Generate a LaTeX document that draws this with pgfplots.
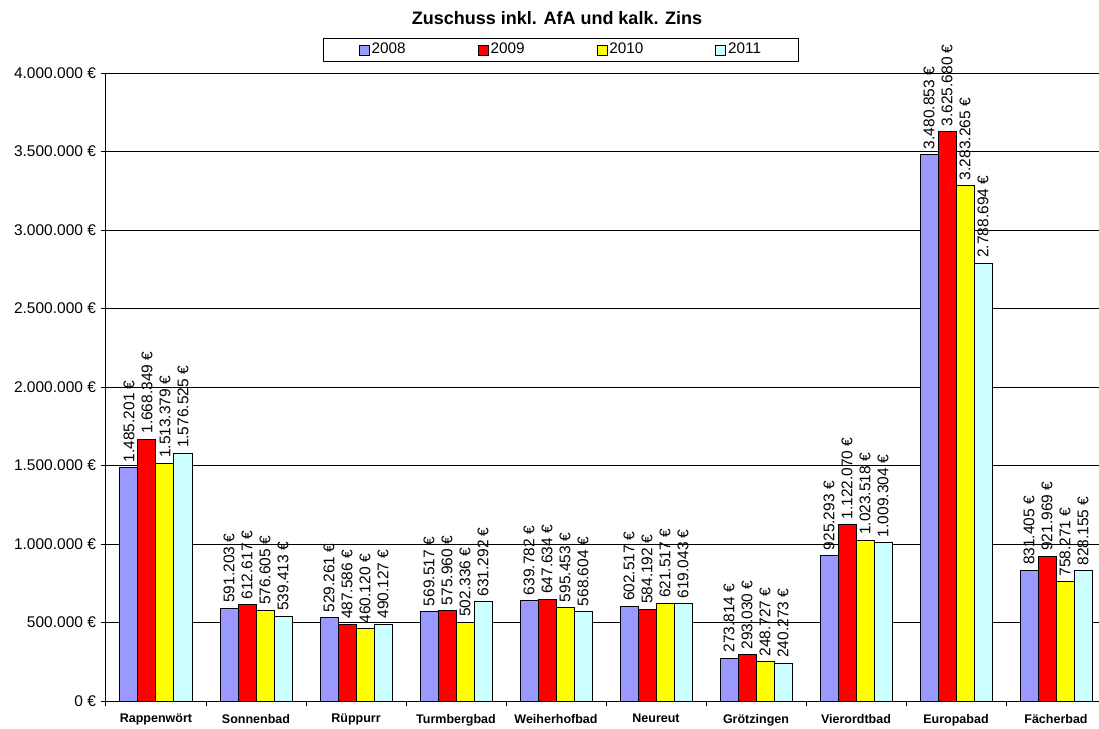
\documentclass[border=0pt]{standalone}
\usepackage{fontspec}
\setmainfont{Liberation Sans}
\usepackage{pgfplots}
\pgfplotsset{compat=1.18}
\definecolor{c2008}{HTML}{9999FF}
\definecolor{c2009}{HTML}{FF0000}
\definecolor{c2010}{HTML}{FFFF00}
\definecolor{c2011}{HTML}{CCFFFF}
\pgfplotsset{
  legsq/.style={legend image code/.code={%
    \draw[##1,draw=black,line width=0.4pt] (0pt,-2.5pt) rectangle (5pt,2.5pt);}},
}
\begin{document}
\begin{tikzpicture}
\useasboundingbox (0,0) rectangle (549.5pt,364.5pt);
\begin{axis}[
  at={(53pt,14pt)}, anchor=south west,
  scale only axis, width=500pt, height=314pt,
  ybar=0pt, bar width=9pt,
  xmin=-0.5, xmax=9.5, ymin=0, ymax=4000000,
  axis x line*=bottom, axis y line*=left,
  axis line style={black, line width=0.5pt},
  clip=false,
  xtick={-0.5,0.5,...,9.5},
  x tick label as interval,
  xticklabels={Rappenwört, Sonnenbad, Rüppurr, Turmbergbad, Weiherhofbad,
    Neureut, Grötzingen, Vierordtbad, Europabad, Fächerbad},
  xticklabel style={font=\fontsize{6.25}{7.5}\selectfont\bfseries, yshift=-0.5pt},
  ytick={0,500000,1000000,1500000,2000000,2500000,3000000,3500000,4000000},
  scaled y ticks=false,
  yticklabel={\pgfmathprintnumber[fixed,precision=0,1000 sep={.},assume math mode=true]{\tick}~€},
  yticklabel style={font=\fontsize{7.75}{9}\selectfont, xshift=1pt},
  tick align=outside,
  major tick length=2.5pt,
  tick style={black, line width=0.5pt},
  ymajorgrids,
  major grid style={black, line width=0.5pt},
  point meta=rawy,
  nodes near coords={\pgfmathprintnumber[fixed,precision=0,1000 sep={.},assume math mode=true]{\pgfplotspointmeta}~€},
  every node near coord/.append style={rotate=90, anchor=west,
    font=\fontsize{7.75}{9}\selectfont, inner sep=1pt, inner xsep=2.5pt},
  every axis title shift=0pt,
  title={Zuschuss inkl. AfA und kalk. Zins},
  title style={at={(0.451,1.0876)}, anchor=center, font=\fontsize{9}{11}\selectfont\bfseries},
  legend columns=4,
  legend style={at={(0.455,1.0366)}, anchor=center, draw=black, line width=0.5pt,
    font=\fontsize{7.65}{9}\selectfont, inner xsep=17.5pt, inner ysep=1.8pt,
    nodes={inner sep=0.75pt, inner xsep=1pt, anchor=west},
    /tikz/every even column/.append style={column sep=35pt}},
]
\addplot[fill=c2008, draw=black, line width=0.5pt, legsq] coordinates {
  (0,1485201) (1,591203) (2,529261) (3,569517) (4,639782)
  (5,602517) (6,273814) (7,925293) (8,3480853) (9,831405)};
\addplot[fill=c2009, draw=black, line width=0.5pt, legsq] coordinates {
  (0,1668349) (1,612617) (2,487586) (3,575960) (4,647634)
  (5,584192) (6,293030) (7,1122070) (8,3625680) (9,921969)};
\addplot[fill=c2010, draw=black, line width=0.5pt, legsq] coordinates {
  (0,1513379) (1,576605) (2,460120) (3,502336) (4,595453)
  (5,621517) (6,248727) (7,1023518) (8,3283265) (9,758271)};
\addplot[fill=c2011, draw=black, line width=0.5pt, legsq] coordinates {
  (0,1576525) (1,539413) (2,490127) (3,631292) (4,568604)
  (5,619043) (6,240273) (7,1009304) (8,2788694) (9,828155)};
\legend{2008, 2009, 2010, 2011}
\end{axis}
\end{tikzpicture}
\end{document}
